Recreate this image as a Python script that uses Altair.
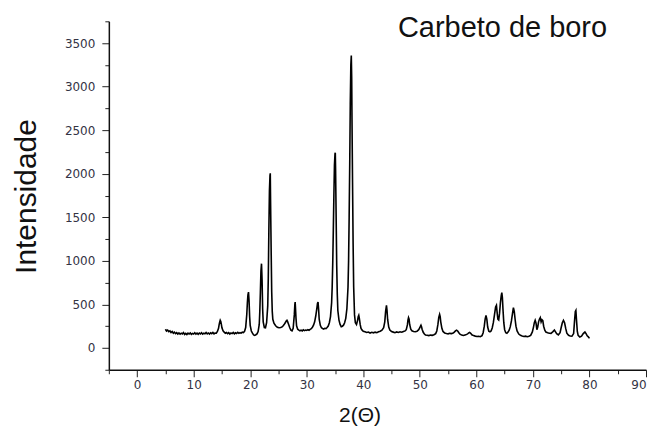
import altair as alt
import pandas as pd

# 2-theta positions (degrees)
two_theta = [
    5.0, 5.2, 5.4, 5.6, 5.8, 6.0, 6.2, 6.4, 6.6, 6.8,
    7.0, 7.2, 7.4, 7.6, 7.8, 8.0, 8.2, 8.4, 8.6, 8.8,
    9.0, 9.2, 9.4, 9.6, 9.8, 10.0, 10.2, 10.4, 10.6, 10.8,
    11.0, 11.2, 11.4, 11.6, 11.8, 12.0, 12.2, 12.4, 12.6, 12.8,
    13.0, 13.2, 13.4, 13.6, 13.8, 14.0,
    14.2, 14.4, 14.5, 14.6, 14.7, 14.8, 14.9, 15.0, 15.2, 15.4, 15.6, 15.8, 16.0, 16.2,
    16.4, 16.6, 16.8, 17.0, 17.2, 17.4, 17.6, 17.8, 18.0, 18.2, 18.4, 18.6, 18.8, 19.0,
    19.2, 19.4, 19.5, 19.6, 19.7, 19.8, 19.9, 20.0, 20.2, 20.4, 20.6, 20.8, 21.0, 21.2, 21.4,
    21.6, 21.7, 21.8, 21.9, 22.0, 22.1, 22.2, 22.3, 22.5, 22.7, 22.9, 23.1, 23.2, 23.3,
    23.4, 23.5, 23.55, 23.6, 23.7, 23.8, 23.9, 24.0,
    24.2, 24.5, 24.8, 25.1, 25.4, 25.7, 26.0, 26.2, 26.4, 26.5, 26.6, 26.8, 27.0, 27.2, 27.4,
    27.6, 27.8, 27.9, 27.95, 28.0, 28.1, 28.2, 28.4, 28.6,
    28.8, 29.0, 29.2, 29.4, 29.6, 29.8, 30.0, 30.2, 30.4, 30.6, 30.8, 31.0,
    31.2, 31.4, 31.6, 31.8, 31.9, 32.0, 32.1, 32.2, 32.4, 32.6, 32.8, 33.0, 33.2, 33.4, 33.6, 33.8,
    34.0, 34.2, 34.4, 34.5, 34.6, 34.7, 34.8, 34.9, 35.0, 35.05, 35.1, 35.2, 35.3, 35.4, 35.5, 35.7, 35.9, 36.1,
    36.3, 36.5, 36.7, 36.9, 37.1, 37.3, 37.4, 37.5, 37.6, 37.7,
    37.8, 37.88, 37.95, 38.0, 38.1, 38.2, 38.3, 38.45, 38.6,
    38.8, 39.0, 39.1, 39.2, 39.3, 39.45, 39.6, 39.8, 40.0, 40.3, 40.6, 40.9, 41.2, 41.5, 41.8,
    42.1, 42.4, 42.7, 43.0, 43.3, 43.6,
    43.8, 43.95, 44.1, 44.2, 44.3, 44.5, 44.7, 45.0, 45.3, 45.6, 45.9, 46.2, 46.5, 46.8, 47.1, 47.4, 47.6,
    47.8, 47.9, 48.0, 48.1, 48.2, 48.4, 48.6, 48.9, 49.2, 49.5, 49.8,
    50.0, 50.1, 50.2, 50.3, 50.4, 50.6, 50.8, 51.0, 51.3, 51.6, 51.9, 52.2, 52.5, 52.8,
    53.0, 53.2, 53.35, 53.5, 53.6, 53.7, 53.9, 54.1, 54.4, 54.7, 55.0, 55.3, 55.6, 55.9,
    56.1, 56.3, 56.5, 56.7, 56.9, 57.1, 57.4, 57.7, 58.0, 58.3, 58.5, 58.7, 58.8, 59.0,
    59.2, 59.5, 59.8, 60.1, 60.4, 60.7, 61.0,
    61.2, 61.4, 61.55, 61.7, 61.85, 62.0, 62.2, 62.4, 62.6, 62.8, 63.0, 63.2, 63.4, 63.55,
    63.65, 63.8, 63.95, 64.1, 64.25, 64.4, 64.5, 64.6, 64.7, 64.85, 65.0, 65.2, 65.4,
    65.6, 65.8, 66.0, 66.2, 66.4, 66.55, 66.7, 66.85, 67.0, 67.2,
    67.5, 67.8, 68.1, 68.4, 68.7, 69.0, 69.3, 69.6, 69.9,
    70.1, 70.25, 70.4, 70.55, 70.7, 70.85, 71.0, 71.15, 71.3, 71.45, 71.6, 71.75, 71.9, 72.1, 72.3, 72.6,
    72.9, 73.2, 73.5, 73.8, 74.0, 74.2, 74.5, 74.8,
    75.0, 75.2, 75.4, 75.6, 75.8, 76.0, 76.3, 76.6, 76.9, 77.2, 77.35, 77.5, 77.6, 77.7, 77.85, 78.0,
    78.3, 78.6, 78.9, 79.2, 79.4, 79.6, 79.8, 80.0,
]

# intensities (counts)
intensity = [
    215, 195, 205, 188, 196, 178, 190, 170, 182, 165,
    176, 160, 172, 158, 170, 162, 176, 156, 168, 154,
    170, 160, 173, 157, 168, 161, 175, 159, 170, 157,
    172, 161, 176, 159, 170, 163, 178, 161, 172, 160,
    175, 165, 178, 162, 171, 170,
    190, 225, 265, 295, 318, 305, 270, 232, 198, 182, 170, 178, 164, 176,
    160, 172, 165, 178, 162, 174, 166, 180, 168, 176, 170, 182, 178, 190,
    235, 390, 520, 610, 642, 540, 360, 260, 195, 170, 150, 145, 152, 162, 188,
    270, 420, 640, 880, 968, 780, 450, 300, 235, 232, 290, 480, 800, 1350,
    1800, 1980, 2005, 1700, 1150, 650, 420, 330,
    285, 255, 238, 232, 236, 245, 268, 290, 312, 318, 305, 270, 232, 205, 196,
    225, 380, 500, 528, 470, 340, 255, 215, 205,
    198, 205, 196, 208, 199, 206, 202, 210, 204, 214, 222, 238,
    262, 300, 370, 460, 510, 528, 440, 330, 260, 232, 224, 218, 226, 222, 235, 252,
    290, 360, 520, 700, 980, 1350, 1750, 2100, 2230, 2241, 2050, 1500, 950, 620, 430, 320, 270, 245,
    250, 262, 290, 340, 450, 700, 1000, 1500, 2100, 2800,
    3250, 3357, 3100, 2650, 1900, 1200, 700, 380, 290,
    270, 320, 360, 375, 340, 270, 225, 205, 192, 186, 178, 183, 172, 180, 174,
    182, 176, 186, 192, 205, 232,
    300, 420, 490, 430, 330, 240, 205, 188, 182, 176, 184, 178, 186, 181, 190, 196, 210,
    265, 320, 348, 330, 270, 215, 198, 190, 186, 192, 210,
    232, 250, 262, 245, 215, 180, 160, 150, 146, 142, 148, 145, 152, 165,
    195, 270, 350, 386, 360, 300, 225, 190, 172, 166, 162, 168, 165, 172,
    182, 196, 205, 195, 175, 158, 148, 144, 150, 156, 165, 175, 178, 168,
    152, 142, 136, 132, 135, 130, 142,
    175, 250, 330, 375, 330, 240, 192, 185, 195, 230, 290, 380, 470, 490,
    420, 330, 320, 400, 520, 600, 635, 580, 450, 290, 210, 175, 168,
    182, 205, 245, 310, 400, 463, 420, 330, 250, 195,
    160, 145, 138, 132, 136, 130, 134, 145, 185,
    240, 290, 318, 285, 210, 240, 300, 330, 348, 300, 325, 315, 250, 205, 183, 175,
    170, 168, 185, 205, 185, 165, 150, 175,
    235, 290, 318, 290, 225, 170, 145, 138, 135, 165, 300, 420, 432, 330, 190, 145,
    126, 135, 165, 183, 165, 140, 128, 110,
]

assert len(two_theta) == len(intensity), (len(two_theta), len(intensity))

chart_title = ["Carbeto de boro"]

x_major = list(range(0, 91, 10))
x_minor = list(range(-5, 90, 10))
y_major = list(range(0, 3501, 500))
y_minor = list(range(-250, 3751, 500))

df = pd.DataFrame({"theta": two_theta, "intensity": intensity})

x_scale = alt.Scale(domain=[-5, 90], nice=False, zero=False)
y_scale = alt.Scale(domain=[-250, 3750], nice=False, zero=False)

label_font = "DejaVu Sans"
title_font = "Liberation Sans"

main = alt.Chart(df).mark_line(color="black", strokeWidth=1.6).encode(
    x=alt.X(
        "theta:Q",
        scale=x_scale,
        axis=alt.Axis(
            orient="bottom", values=x_major, format="d", grid=False, tickSize=7, tickWidth=1,
            tickColor="#222222", domainColor="#111111", domainWidth=1.5,
            labelPadding=3, labelFont=label_font, labelFontSize=12, labelColor="#333344",
            title="2(Θ)", titleFont=title_font, titleFontSize=21, titleFontWeight="normal",
            titleColor="#111111", titleX=251, titleY=52, titleAlign="center",
            titleBaseline="alphabetic",
        ),
    ),
    y=alt.Y(
        "intensity:Q",
        scale=y_scale,
        axis=alt.Axis(
            orient="left", values=y_major, format="d", grid=False, tickSize=7, tickWidth=1,
            tickColor="#222222", domainColor="#111111", domainWidth=1.5,
            labelPadding=7, labelFont=label_font, labelFontSize=12, labelColor="#333344",
            title="Intensidade", titleFont=title_font, titleFontSize=30,
            titleFontWeight="normal", titleColor="#111111", titleX=-73, titleY=175,
            titleAlign="center", titleBaseline="alphabetic", titleAngle=270,
        ),
    ),
)

minor = alt.Chart(df).mark_point(opacity=0).encode(
    x=alt.X(
        "theta:Q",
        scale=x_scale,
        title=None,
        axis=alt.Axis(orient="bottom", values=x_minor, grid=False, labels=False,
                      domain=False, tickSize=4, tickColor="#222222"),
    ),
    y=alt.Y(
        "intensity:Q",
        scale=y_scale,
        title=None,
        axis=alt.Axis(orient="left", values=y_minor, grid=False, labels=False,
                      domain=False, tickSize=4, tickColor="#222222"),
    ),
)

title_layer = alt.Chart(pd.DataFrame({"label": chart_title})).mark_text(
    font=title_font, fontSize=29, color="#111111", align="right", baseline="alphabetic"
).encode(
    text="label:N",
    x=alt.value(499),
    y=alt.value(16),
)

chart = (
    alt.layer(minor, main, title_layer)
    .resolve_axis(x="independent", y="independent")
    .properties(
        width=538,
        height=349,
        autosize="none",
        padding={"left": 101, "top": 13, "right": 2, "bottom": 58},
    )
    .configure_view(stroke=None)
)

chart.save("out.html", embed_options={"renderer": "svg", "actions": False})
